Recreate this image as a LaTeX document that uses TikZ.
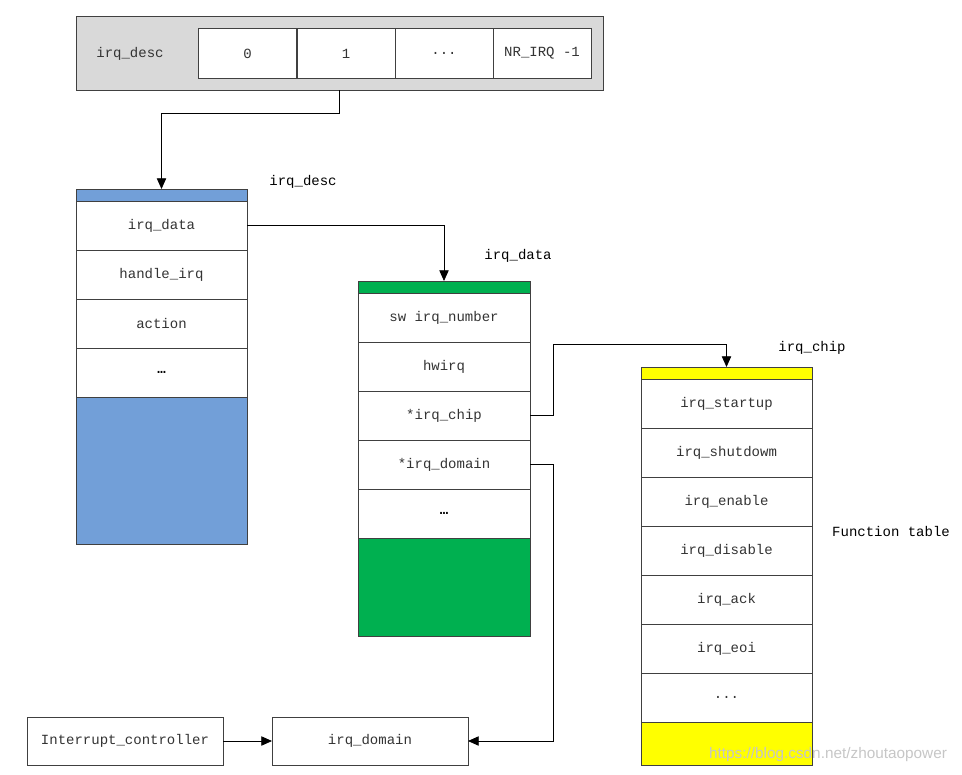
\documentclass[tikz,border=0pt]{standalone}
\usepackage{fontspec}
\setmonofont{Liberation Mono}
\setsansfont{Liberation Sans}
\usetikzlibrary{arrows.meta}
\definecolor{linec}{HTML}{404040}
\definecolor{textc}{HTML}{333333}
\definecolor{grayfill}{HTML}{D9D9D9}
\definecolor{bluefill}{HTML}{729FD8}
\definecolor{greenfill}{HTML}{00B050}
\definecolor{yellowfill}{HTML}{FFFF00}
\newfontfamily\boxfont{Liberation Mono}[Scale=1]
\tikzset{
  base/.style={draw=linec, line width=0.75pt, inner sep=0pt, outer sep=0pt},
  cell/.style={base, fill=white, minimum width=#1, minimum height=36.75pt,
    font=\fontsize{10.5}{12}\boxfont, text=textc},
  bar/.style 2 args={base, fill=#1, minimum width=#2, minimum height=9pt},
  block/.style n args={3}{base, fill=#1, minimum width=#2, minimum height=#3},
  lbl/.style={font=\fontsize{10.5}{12}\boxfont, text=black, inner sep=0pt},
  arr/.style={draw=black, line width=0.6pt, -{Triangle[length=8pt,width=7pt]}},
}
\begin{document}
\begin{tikzpicture}[x=0.75pt,y=-0.75pt]
\useasboundingbox (0,0) rectangle (962,774);
% top array
\node[block={grayfill}{395.25pt}{54.75pt}] (outer) at (339.5,53.5) {};
\node[lbl, text=textc] (toplbl) at (130,53.5) {irq\_desc};
\node[cell=73.5pt] (c0) at (247.5,53.5) {0};
\node[cell=73.5pt] (c1) at (346,53.5) {1};
\node[cell=73.5pt] (c2) at (444,53.5) {...};
\node[cell=73.5pt] (c3) at (542,53.5) {NR\_IRQ -1};
% irq_desc struct
\node[lbl] (desclbl) at (303,182) {irq\_desc};
\node[bar={bluefill}{128.25pt}] (descbar) at (161.5,195) {};
\node[cell=128.25pt] (d1) at (161.5,225.5) {irq\_data};
\node[cell=128.25pt] (d2) at (161.5,274.5) {handle\_irq};
\node[cell=128.25pt] (d3) at (161.5,323.5) {action};
\node[cell=128.25pt, text=black] (d4) at (161.5,372.5) {\bfseries …};
\node[block={bluefill}{128.25pt}{110.25pt}] (descbot) at (161.5,470.5) {};
% irq_data struct
\node[lbl] (datalbl) at (518,256) {irq\_data};
\node[bar={greenfill}{129pt}] (databar) at (444,287) {};
\node[cell=129pt] (e1) at (444,317.5) {sw irq\_number};
\node[cell=129pt] (e2) at (444,366.5) {hwirq};
\node[cell=129pt] (dchip) at (444,415.5) {*irq\_chip};
\node[cell=129pt] (ddom) at (444,464.5) {*irq\_domain};
\node[cell=129pt, text=black] (e5) at (444,513.5) {\bfseries …};
\node[block={greenfill}{129pt}{73.5pt}] (databot) at (444,587) {};
% irq_chip struct
\node[lbl] (chiplbl) at (812,348) {irq\_chip};
\node[bar={yellowfill}{128.25pt}] (chipbar) at (726.5,373) {};
\node[cell=128.25pt] (f1) at (726.5,403.5) {irq\_startup};
\node[cell=128.25pt] (f2) at (726.5,452.5) {irq\_shutdowm};
\node[cell=128.25pt] (f3) at (726.5,501.5) {irq\_enable};
\node[cell=128.25pt] (f4) at (726.5,550.5) {irq\_disable};
\node[cell=128.25pt] (f5) at (726.5,599.5) {irq\_ack};
\node[cell=128.25pt] (f6) at (726.5,648.5) {irq\_eoi};
\node[cell=128.25pt] (f7) at (726.5,697.5) {...};
\node[block={yellowfill}{128.25pt}{32.25pt}] (chipbot) at (726.5,743.5) {};
\node[lbl] (ftlbl) at (891,531) {Function table};
% bottom boxes
\node[cell=147pt, minimum height=36pt] (ic) at (125,741) {Interrupt\_controller};
\node[cell=147pt, minimum height=36pt] (dom) at (370,741) {irq\_domain};
% connectors
\coordinate (k2) at (726.5,344);
\draw[arr] (outer.south) -- ++(0,23) -| (descbar.north);
\draw[arr] (d1.east) -| (databar.north);
\draw[arr] (dchip.east) -- ++(23,0) |- (k2) -- (chipbar.north);
\draw[arr] (ddom.east) -- ++(23,0) |- (dom.east);
\draw[arr] (ic.east) -- (dom.west);
% watermark
\node[font=\fontsize{11.5}{13}\sffamily, text=gray!45, inner sep=0pt] (wm) at (828,755) {https://blog.csdn.net/zhoutaopower};
\end{tikzpicture}
\end{document}
